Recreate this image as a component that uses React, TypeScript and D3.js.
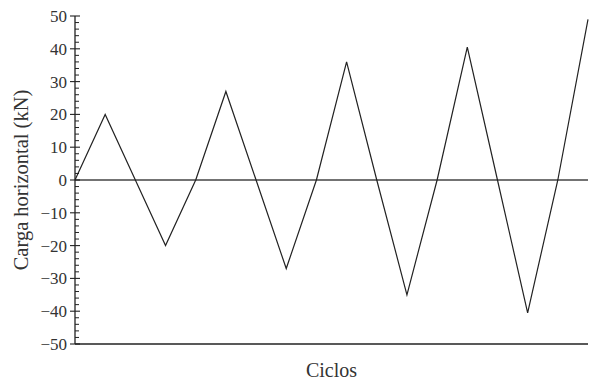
import React from "react";
import * as d3 from "d3";

// Horizontal load applied at each turning point of the cyclic test
const cycleIndex: number[] = d3.range(0, 18);
const loadKN: number[] = [0, 20, 0, -20, 0, 27, 0, -27, 0, 36, 0, -35, 0, 40.5, 0, -40.5, 0, 49];
const majorTicks: number[] = [-50, -40, -30, -20, -10, 0, 10, 20, 30, 40, 50];
const minorTicks: number[] = d3.range(-50, 51, 2).filter((v) => v % 10 !== 0);

const yTitle = "Carga horizontal (kN)";
const xTitle = "Ciclos";

const W = 589;
const H = 382;
const left = 75;
const right = 588;
const top = 16;
const bottom = 344;
const font = "'Liberation Serif', 'DejaVu Serif', serif";
const ink = "#222";

export default function App() {
  const x = d3.scaleLinear().domain([0, 17]).range([left, right]);
  const y = d3.scaleLinear().domain([-50, 50]).range([bottom, top]);
  const line = d3
    .line<number>()
    .x((_, i) => x(cycleIndex[i]))
    .y((d) => y(d));
  const fmt = (v: number) => (v < 0 ? "\u2212" + Math.abs(v) : String(v));

  return (
    <svg
      width={W}
      height={H}
      style={{ position: "absolute", left: 0, top: 0, display: "block" }}
    >
      <rect width={W} height={H} fill="#fff" />
      {/* zero line */}
      <line x1={left} x2={right} y1={y(0)} y2={y(0)} stroke="#444" strokeWidth={1.3} />
      {/* bottom frame */}
      <line x1={left} x2={right} y1={bottom} y2={bottom} stroke={ink} strokeWidth={1.3} />
      {/* y axis */}
      <line x1={left} x2={left} y1={top} y2={bottom} stroke={ink} strokeWidth={1.3} />
      {minorTicks.map((v) => (
        <line key={"m" + v} x1={left} x2={left + 4} y1={y(v)} y2={y(v)} stroke={ink} strokeWidth={1} />
      ))}
      {majorTicks.map((v) => (
        <g key={"t" + v}>
          <line x1={left - 5} x2={left + 5} y1={y(v)} y2={y(v)} stroke={ink} strokeWidth={1.1} />
          <text
            x={left - 8}
            y={y(v)}
            dy="0.35em"
            textAnchor="end"
            fontFamily={font}
            fontSize={17}
            fill="#333"
          >
            {fmt(v)}
          </text>
        </g>
      ))}
      <path d={line(loadKN) || ""} fill="none" stroke={ink} strokeWidth={1.2} strokeLinejoin="miter" />
      <text
        transform={`translate(21, ${y(0)}) rotate(-90)`}
        textAnchor="middle"
        dy="0.35em"
        fontFamily={font}
        fontSize={20.5}
        fill="#333"
      >
        {yTitle}
      </text>
      <text
        x={(left + right) / 2}
        y={377}
        textAnchor="middle"
        fontFamily={font}
        fontSize={20}
        fill="#333"
      >
        {xTitle}
      </text>
    </svg>
  );
}
